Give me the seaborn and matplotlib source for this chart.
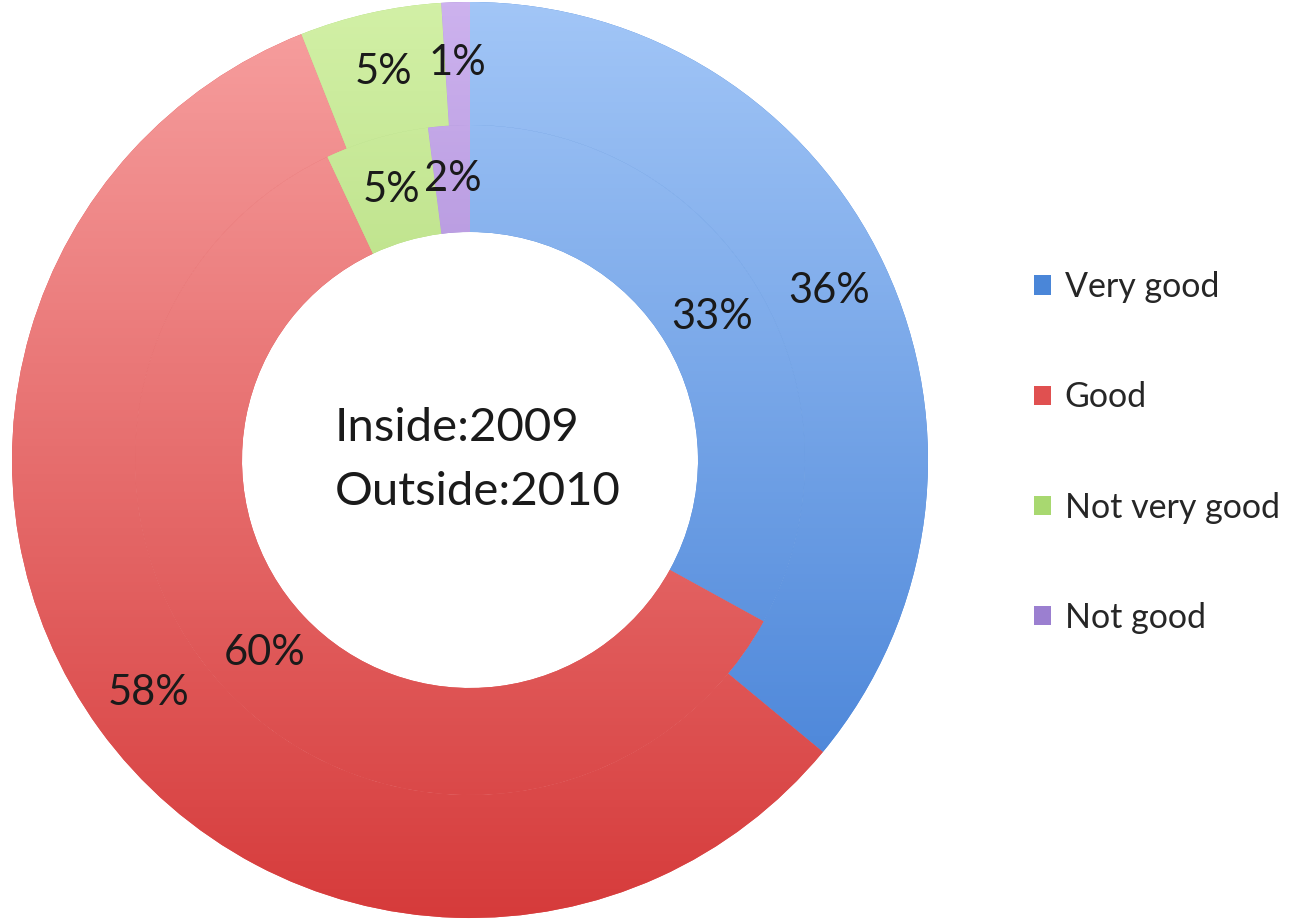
import numpy as np
import matplotlib
matplotlib.use("Agg")
import matplotlib.pyplot as plt
import seaborn as sns
from matplotlib.colors import LinearSegmentedColormap
from matplotlib.patches import Patch

# --- Dados ---
categorias = ['Very good', 'Good', 'Not very good', 'Not good']
valores_2010 = [36, 58, 5, 1]   # anel externo
valores_2009 = [33, 60, 5, 2]   # anel interno

# cores (claro -> escuro) para o degradê de cada fatia
cores_claras = ['#a2c6f7', '#f7a0a0', '#d2f0a6', '#cdb2ee']
cores_escuras = ['#3d7bd4', '#d63b3b', '#94c653', '#8663bf']
cores_legenda = ['#4a86d8', '#e05050', '#a8d870', '#9b7fd0']

sns.set_theme(style="white")
plt.rcParams['font.family'] = ['Lato', 'DejaVu Sans']

W, H = 1300, 923
fig = plt.figure(figsize=(W / 100, H / 100), dpi=100)
cx, cy, R = 470, 460, 458
ax = fig.add_axes([(cx - R) / W, (H - cy - R) / H, 2 * R / W, 2 * R / H])
ax.set_aspect('equal')
ax.axis('off')

r_ext_in = 335 / R
r_hole = 228 / R

def anel(valores, raio, largura, pctdist):
    wedges, textos, autotextos = ax.pie(
        valores, radius=raio, startangle=90, counterclock=False,
        colors=cores_legenda, autopct='%1.0f%%', pctdistance=pctdist,
        wedgeprops=dict(width=largura, linewidth=0),
        textprops=dict(fontsize=30, color='#1a1a1a'))
    grad = np.linspace(0, 1, 256).reshape(-1, 1)
    for w, c1, c2 in zip(wedges, cores_claras, cores_escuras):
        cmap = LinearSegmentedColormap.from_list('g', [c1, c2])
        im = ax.imshow(grad, cmap=cmap, extent=[-1, 1, -1, 1],
                       origin='upper', aspect='auto', zorder=2)
        im.set_clip_path(w)
    for t in autotextos:
        t.set_zorder(5)
    return wedges

anel(valores_2010, 1.0, 1.0 - r_ext_in, 0.867)
anel(valores_2009, r_ext_in, r_ext_in - r_hole, 0.84)
ax.set_xlim(-1, 1)
ax.set_ylim(-1, 1)

ax.text(-0.295, 0.0, 'Inside:2009\nOutside:2010', fontsize=34, color='#1a1a1a',
        ha='left', va='center', linespacing=1.65, zorder=5)

handles = [Patch(facecolor=c, edgecolor='none') for c in cores_legenda]
fig.legend(handles, categorias, loc='upper left', bbox_to_anchor=(1017 / W, 1 - 254 / H),
           frameon=False, fontsize=24.5, labelspacing=2.3, handlelength=0.5,
           handleheight=0.5, handletextpad=0.4, borderpad=0)

fig.savefig('out.png', dpi=100)
